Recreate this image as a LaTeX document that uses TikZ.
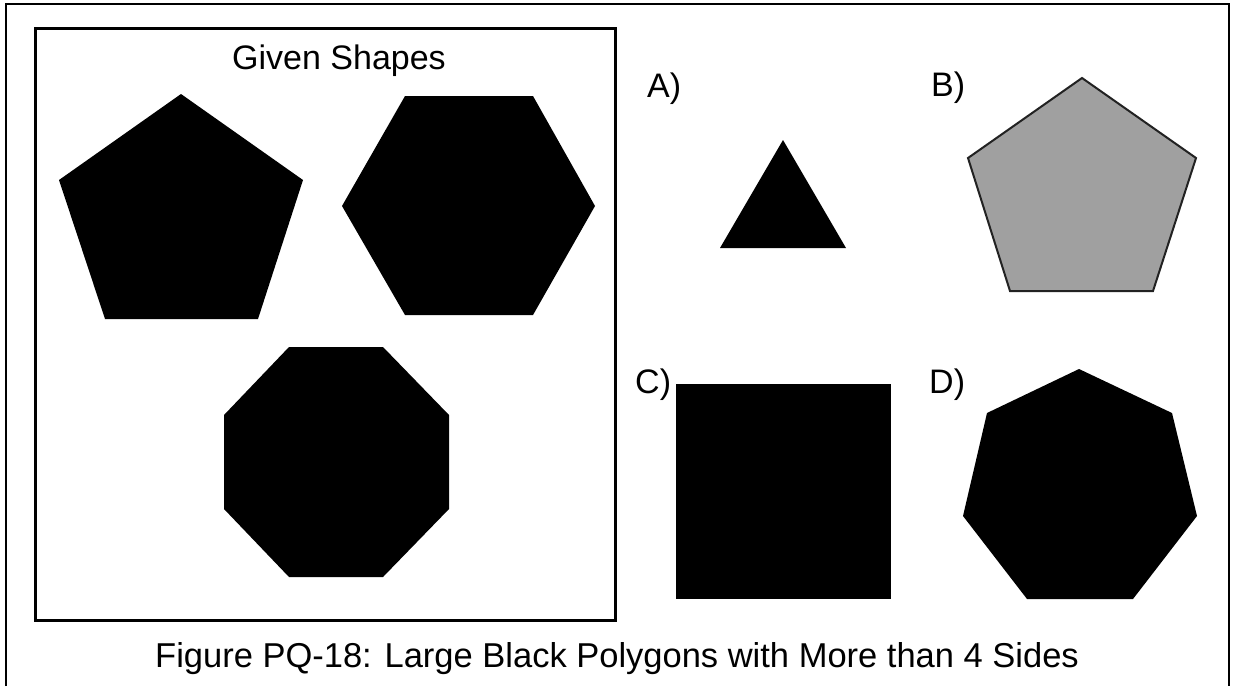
\documentclass[tikz,border=0pt]{standalone}
\usepackage{fontspec}
\setmainfont{Liberation Sans}
\usetikzlibrary{positioning}
\definecolor{shapegrey}{HTML}{A0A0A0}
\definecolor{edgegrey}{HTML}{222222}
\tikzset{
  outerframe/.style={draw=black, line width=2pt},
  givenbox/.style={draw=black, line width=3pt},
  blackpoly/.style={fill=black},
  greypoly/.style={fill=shapegrey, draw=edgegrey, line width=2pt, line join=miter},
  choicelabel/.style={font=\fontsize{34}{40}\selectfont, anchor=base west, inner sep=0pt},
  titlelabel/.style={font=\fontsize{34}{40}\selectfont, anchor=base west, inner sep=0pt},
  captionlabel/.style={font=\fontsize{34.5}{40}\selectfont, anchor=base west, inner sep=0pt}
}

\begin{document}
\begin{tikzpicture}[x=1pt, y=-1pt]
  \useasboundingbox (0,0) rectangle (1233,686);
  \fill[white] (0,0) rectangle (1233,686);
  % frame round the whole figure, its bottom edge is cut off
  \draw[outerframe] (6,686) -- (6,4) -- (1229,4) -- (1229,686);
  \draw[givenbox] (35,28) rectangle (615,620);
  \node[titlelabel] (given) at (232,69) {Given Shapes};

  % given shapes
  \fill[blackpoly] (181,94) -- (303,180) -- (258,319) -- (105,319) -- (59,180) -- cycle;
  \fill[blackpoly] (405,96) -- (533,96) -- (595,206) -- (533,315) -- (405,315) -- (342,206) -- cycle;
  \fill[blackpoly] (289,347) -- (383,347) -- (449,415) -- (449,509) -- (383,577) -- (289,577) -- (224,509) -- (224,415) -- cycle;

  % answer choices
  \node[choicelabel] (lblA) at (647,97) {A)};
  \node[choicelabel] (lblB) at (931,96) {B)};
  \node[choicelabel] (lblC) at (635,393) {C)};
  \node[choicelabel] (lblD) at (929,393) {D)};

  \fill[blackpoly] (783,140) -- (846,248) -- (720,248) -- cycle;
  \draw[greypoly] (1082,78) -- (1196,158) -- (1153,291) -- (1010,291) -- (968,158) -- cycle;
  \fill[blackpoly] (676,384) rectangle (891,599);
  \fill[blackpoly] (1079,369) -- (1172,413) -- (1197,516) -- (1133,599) -- (1027,599) -- (963,516) -- (987,413) -- cycle;

  \node[captionlabel] (caption) at (155,667) {Figure PQ-18: Large Black Polygons with More than 4 Sides};
\end{tikzpicture}
\end{document}
